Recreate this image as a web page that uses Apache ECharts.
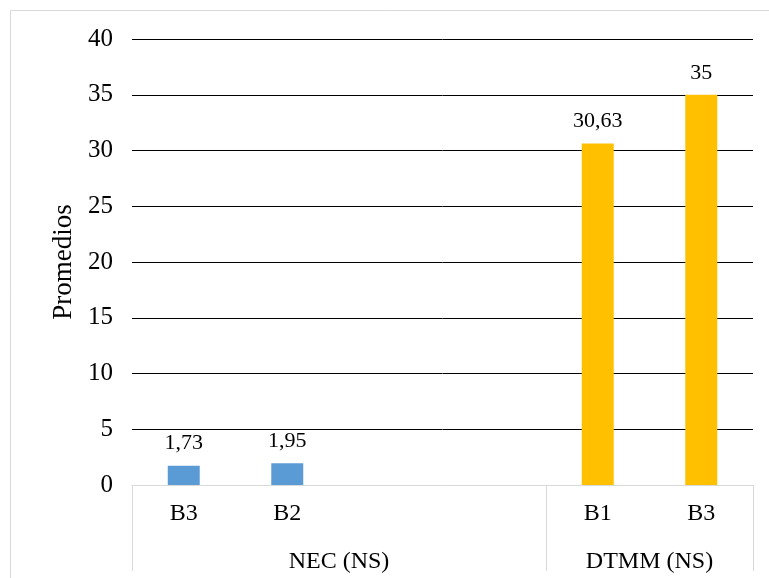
<!DOCTYPE html>
<html>
<head>
<meta charset="utf-8">
<script src="https://cdn.jsdelivr.net/npm/echarts@6/dist/echarts.min.js"></script>
<style>
  html, body { margin: 0; padding: 0; background: #fff; }
  #chart { width: 769px; height: 578px; }
</style>
</head>
<body>
<div id="chart"></div>
<script>
// Category slots along the bottom axis (two empty slots pad the NEC group)
const categories = ['B3', 'B2', '', '', 'B1', 'B3'];
// Group labels and the slot ranges they span
const groups = ['NEC (NS)', 'DTMM (NS)'];
const groupBounds = [0, 4, 6];
const groupCenters = [2, 5];
// Mean values per group
const necValues = [1.73, 1.95];
const dtmmValues = [30.63, 35];
// Value axis
const yMin = 0, yMax = 40, yStep = 5;

const BLUE = '#5B9BD5';
const GOLD = '#FFC000';
const FONT = '"Liberation Serif", "Times New Roman", serif';

const barData = [
  { value: necValues[0], itemStyle: { color: BLUE } },
  { value: necValues[1], itemStyle: { color: BLUE } },
  '-',
  '-',
  { value: dtmmValues[0], itemStyle: { color: GOLD } },
  { value: dtmmValues[1], itemStyle: { color: GOLD } }
];

// First split line (at zero) doubles as the light grey axis line
const nSplits = (yMax - yMin) / yStep + 1;
const splitColors = ['#d9d9d9'];
for (let i = 1; i < nSplits; i++) splitColors.push('#000000');

const chart = echarts.init(document.getElementById('chart'), null, { renderer: 'canvas' });
chart.setOption({
  backgroundColor: '#ffffff',
  animation: false,
  graphic: [{
    type: 'rect',
    shape: { x: 10.5, y: 10.5, width: 800, height: 600 },
    style: { fill: 'none', stroke: '#d9d9d9', lineWidth: 1 },
    silent: true
  }],
  grid: { left: 132, right: 16, top: 39, bottom: 93, containLabel: false },
  xAxis: [{
    type: 'category',
    data: categories,
    position: 'bottom',
    axisLine: { show: true, lineStyle: { color: '#d9d9d9', width: 1 } },
    axisTick: { show: false },
    axisLabel: { interval: 0, margin: 17, color: '#000', fontFamily: FONT, fontSize: 24 }
  }, {
    type: 'value',
    min: 0,
    max: categories.length,
    position: 'bottom',
    axisLine: { show: false },
    splitLine: { show: false },
    axisTick: {
      show: true,
      customValues: groupBounds,
      length: 86,
      lineStyle: { color: '#d9d9d9', width: 1 }
    },
    axisLabel: {
      show: true,
      customValues: groupCenters,
      margin: 65,
      color: '#000',
      fontFamily: FONT,
      fontSize: 24,
      formatter: function (v) { return groups[groupCenters.indexOf(v)] || ''; }
    }
  }],
  yAxis: {
    type: 'value',
    min: yMin,
    max: yMax,
    interval: yStep,
    name: 'Promedios',
    nameLocation: 'middle',
    nameGap: 52,
    nameRotate: 90,
    nameTextStyle: { color: '#000', fontFamily: FONT, fontSize: 27 },
    axisLine: { show: false },
    axisTick: { show: false },
    axisLabel: { margin: 19, color: '#000', fontFamily: FONT, fontSize: 25 },
    splitLine: { show: true, lineStyle: { color: splitColors, width: 1 } }
  },
  series: [{
    type: 'bar',
    xAxisIndex: 0,
    data: barData,
    barWidth: 32,
    label: {
      show: true,
      position: 'top',
      distance: 11,
      color: '#000',
      fontFamily: FONT,
      fontSize: 22,
      formatter: function (p) { return String(p.value).replace('.', ','); }
    }
  }]
});
</script>
</body>
</html>
